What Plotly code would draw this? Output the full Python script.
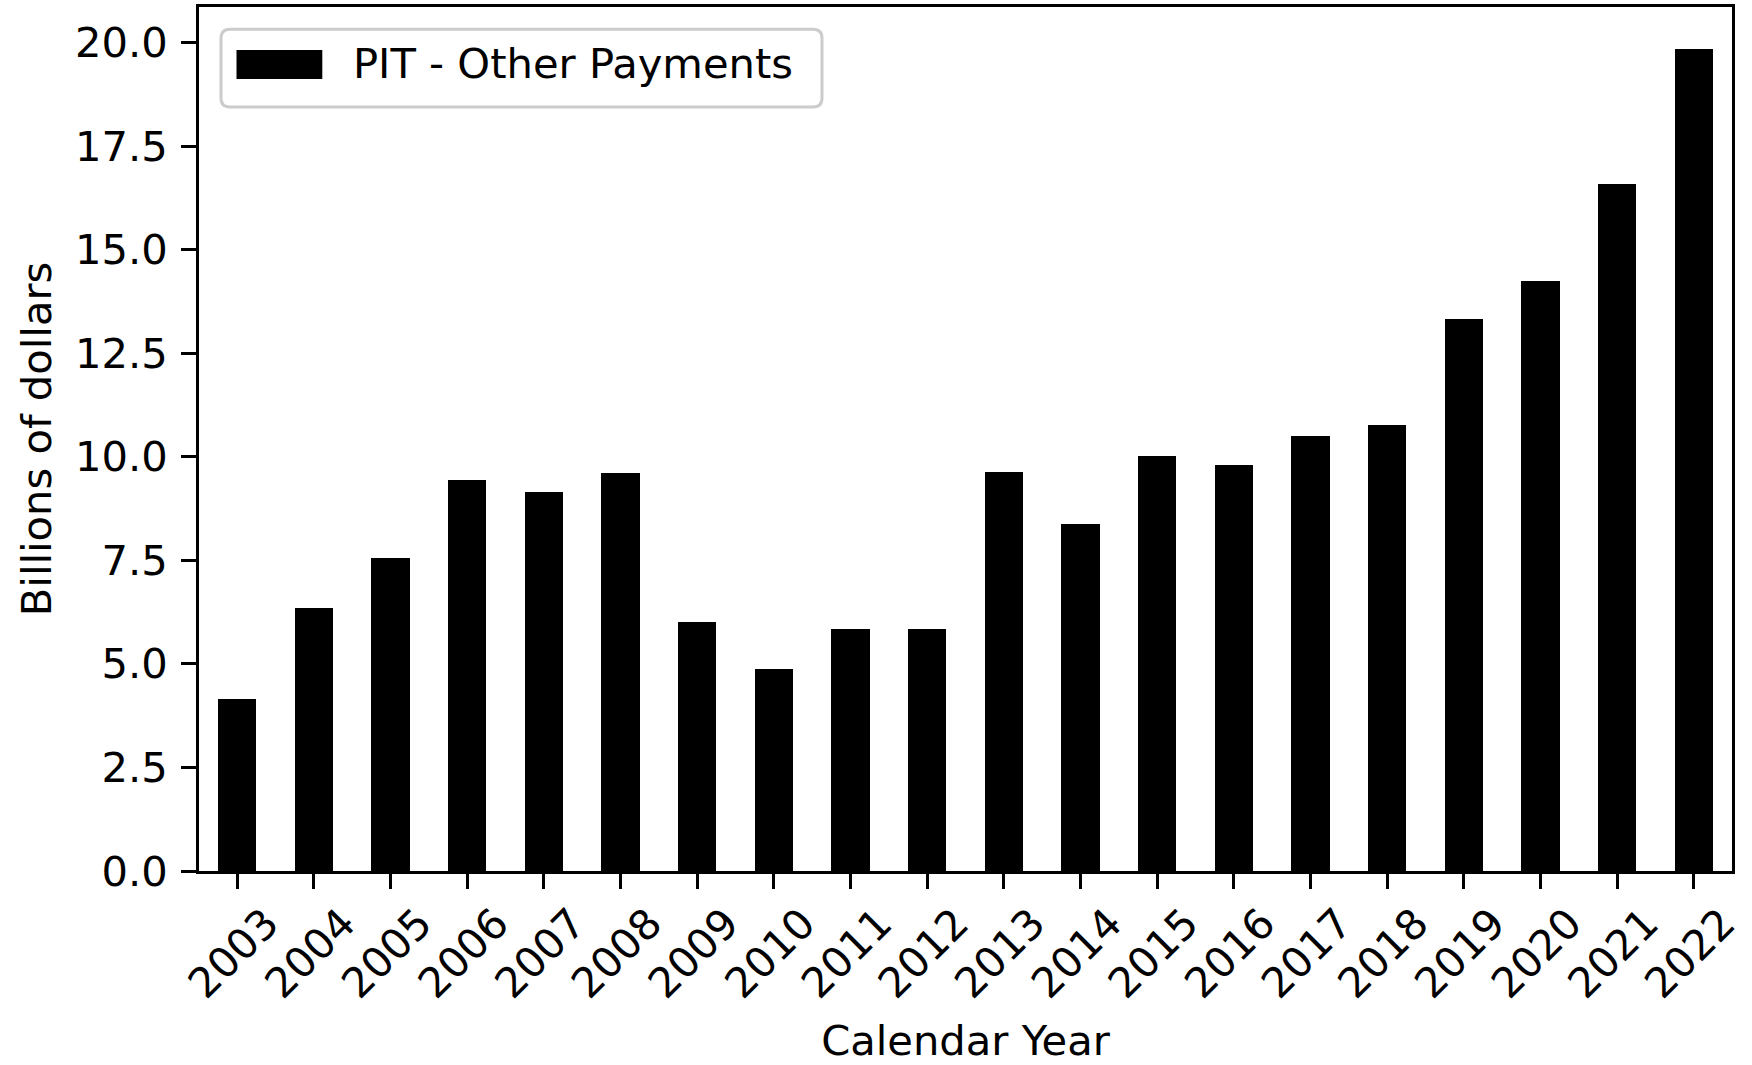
import plotly.graph_objects as go

years = [str(y) for y in range(2003, 2023)]
values = [4.14, 6.34, 7.55, 9.44, 9.14, 9.61, 6.01, 4.88, 5.83, 5.84,
          9.62, 8.37, 10.02, 9.80, 10.50, 10.76, 13.32, 14.24, 16.58, 19.85]
series_name = "PIT - Other Payments"
ytick_vals = [0, 2.5, 5, 7.5, 10, 12.5, 15, 17.5, 20]
ytick_text = ["0.0", "2.5", "5.0", "7.5", "10.0", "12.5", "15.0", "17.5", "20.0"]

W, H = 1752, 1065
L, R, T, B = 199, 20, 7, 193.5
FONT = "DejaVu Sans"
FS = 41.67

fig = go.Figure()
fig.add_trace(go.Bar(x=years, y=values, width=0.5, marker=dict(color="black", line=dict(width=0)),
                     name=series_name, showlegend=False))

fig.update_layout(
    width=W, height=H,
    margin=dict(l=L, r=R, t=T, b=B, autoexpand=False),
    paper_bgcolor="white", plot_bgcolor="white",
    font=dict(family=FONT, size=FS, color="black"),
    bargap=0,
    showlegend=False,
)
fig.update_xaxes(
    type="category", range=[-0.5, 19.5],
    showline=True, mirror=True, linecolor="black", linewidth=3,
    ticks="outside", ticklen=15, tickwidth=3, tickcolor="black",
    tickangle=-45, ticklabelshift=29, ticklabelstandoff=-7,
    showgrid=False, zeroline=False, automargin=False,
    title=dict(text="Calendar Year", font=dict(size=FS), standoff=28),
)
fig.update_yaxes(
    range=[0, 20.856],
    tickvals=ytick_vals, ticktext=ytick_text,
    showline=True, mirror=True, linecolor="black", linewidth=3,
    ticks="outside", ticklen=15, tickwidth=3, tickcolor="black",
    ticklabelstandoff=5,
    showgrid=False, zeroline=False, automargin=False,
    title=dict(text="Billions of dollars", font=dict(size=FS), standoff=11),
)

# legend drawn in pixel offsets from the top-left corner of the plot area
def rounded_rect(x0, y0, x1, y1, r):
    return (f"M{x0+r},{y0} L{x1-r},{y0} Q{x1},{y0} {x1},{y0-r} "
            f"L{x1},{y1+r} Q{x1},{y1} {x1-r},{y1} L{x0+r},{y1} Q{x0},{y1} {x0},{y1+r} "
            f"L{x0},{y0-r} Q{x0},{y0} {x0+r},{y0} Z")

fig.add_shape(type="path", xref="paper", yref="paper", xsizemode="pixel", ysizemode="pixel",
              xanchor=0, yanchor=1, path=rounded_rect(22, -22.3, 623, -100, 9),
              line=dict(color="#cccccc", width=3), fillcolor="rgba(255,255,255,0.8)", layer="above")
fig.add_shape(type="rect", xref="paper", yref="paper", xsizemode="pixel", ysizemode="pixel",
              xanchor=0, yanchor=1, x0=37.5, x1=123.3, y0=-43, y1=-72,
              line=dict(width=0), fillcolor="black", layer="above")
fig.add_annotation(text=series_name, xref="paper", yref="paper",
                   x=(350.5 - L) / (W - L - R), y=1 - (64 - T) / (H - T - B),
                   xanchor="left", yanchor="middle", showarrow=False,
                   font=dict(family=FONT, size=FS, color="black"))

fig.write_html("out.html", config={"displayModeBar": False},
               post_script="document.body.style.margin='0';")
